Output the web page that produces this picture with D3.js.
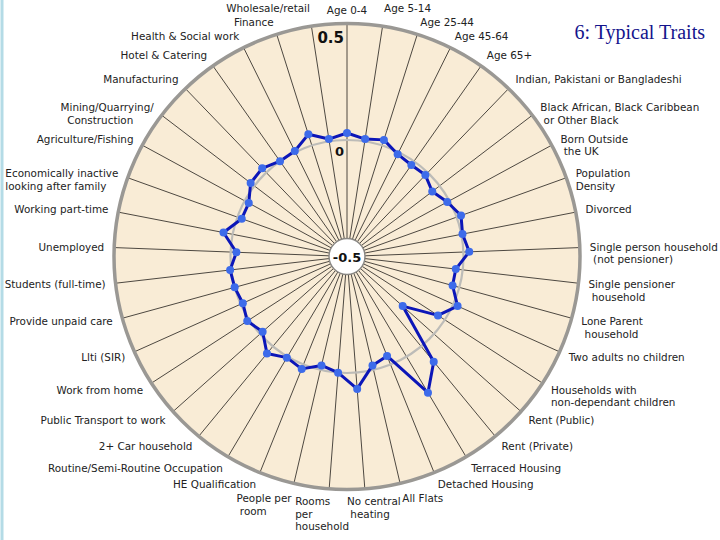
<!DOCTYPE html>
<html lang="en">
<head>
    <meta charset="UTF-8">
    <title>6: Typical Traits</title>
    <style>
        body { margin: 0; background: #fff; }
        svg { display: block; }
        .lbl { font-family: "DejaVu Sans", Verdana, sans-serif; font-size: 10.4px; fill: #222; white-space: pre; }
        .tick { font-family: "DejaVu Sans", Verdana, sans-serif; font-weight: bold; fill: #111; }
    </style>
</head>
<body>
    <svg class="chart-svg" width="720" height="540"></svg>
    <script src="https://d3js.org/d3.v7.min.js"></script>
    <script>
        // Variable names, clockwise from the top ("\n" = line break)
        var categories = [
            "Age 0-4", "Age 5-14", "Age 25-44", "Age 45-64", "Age 65+",
            "Indian, Pakistani or Bangladeshi",
            "Black African, Black Caribbean\n or Other Black",
            "Born Outside\n the UK", "Population\nDensity", "Divorced",
            "Single person household\n (not pensioner)",
            "Single pensioner\n household", "Lone Parent\n household",
            "Two adults no children",
            "Households with\nnon-dependant children",
            "Rent (Public)", "Rent (Private)", "Terraced Housing",
            "Detached Housing", "All Flats", "No central\n heating",
            "Rooms\nper\nhousehold", "People per\n room", "HE Qualification",
            "Routine/Semi-Routine Occupation", "2+ Car household",
            "Public Transport to work", "Work from home", "Llti (SIR)",
            "Provide unpaid care", "Students (full-time)", "Unemployed",
            "Working part-time", "Economically inactive\nlooking after family",
            "Agriculture/Fishing", "Mining/Quarrying/\n  Construction",
            "Manufacturing", "Hotel & Catering", "Health & Social work",
            "Finance", "Wholesale/retail"
        ];

        // Cluster mean for "6: Typical Traits"
        var values = [
            0.03, 0.01, 0.025, -0.01, -0.02,
            -0.015, -0.04, -0.01, 0.02, 0.005,
            0.025, -0.03, -0.03, 0.02, -0.035,
            -0.18, 0.085, 0.18, -0.04, -0.02,
            0.07, 0.0, -0.02, 0.02, 0.005,
            0.04, -0.015, 0.01, -0.01, 0.0,
            0.005, -0.025, 0.04, -0.02, -0.02,
            0.02, 0.025, 0.0, 0.005, 0.05,
            0.01
        ];

        var tickValues = [-0.5, 0, 0.5];
        var title = "6: Typical Traits";

        var svg = d3.select(".chart-svg");
        var cx = 347, cy = 256.5, R = 233;

        var rScale = d3.scaleLinear().domain([-0.5, 0.5]).range([0, R]);
        var aScale = d3.scaleLinear().domain([0, categories.length]).range([0, 2 * Math.PI]);

        // thin light-blue edge on the left of the slide
        svg.append("line")
            .attr("x1", 2).attr("x2", 2).attr("y1", 0).attr("y2", 540)
            .attr("stroke", "#b4dbe6").attr("stroke-width", 3);

        var g = svg.append("g").attr("transform", "translate(" + cx + "," + cy + ")");

        // paper background
        g.append("circle")
            .attr("r", R)
            .attr("fill", "#f9ecd6");

        // spokes
        g.selectAll("line.spoke")
            .data(categories)
            .enter()
            .append("line")
            .attr("class", "spoke")
            .attr("x1", (d, i) => 18 * Math.sin(aScale(i)))
            .attr("y1", (d, i) => -18 * Math.cos(aScale(i)))
            .attr("x2", (d, i) => R * Math.sin(aScale(i)))
            .attr("y2", (d, i) => -R * Math.cos(aScale(i)))
            .attr("stroke", "#3a3530")
            .attr("stroke-width", 0.9);

        // outer ring
        g.append("circle")
            .attr("r", rScale(0.5))
            .attr("fill", "none")
            .attr("stroke", "#9a9894")
            .attr("stroke-width", 3.5);

        // zero ring
        g.append("circle")
            .attr("r", rScale(0))
            .attr("fill", "none")
            .attr("stroke", "#bdbcb8")
            .attr("stroke-width", 2.2);

        // data line
        var line = d3.lineRadial()
            .angle((d, i) => aScale(i))
            .radius(d => rScale(d))
            .curve(d3.curveLinearClosed);

        g.append("path")
            .datum(values)
            .attr("d", line)
            .attr("fill", "none")
            .attr("stroke", "#0c16b8")
            .attr("stroke-width", 3)
            .attr("stroke-linejoin", "round");

        g.selectAll("circle.pt")
            .data(values)
            .enter()
            .append("circle")
            .attr("class", "pt")
            .attr("cx", (d, i) => rScale(d) * Math.sin(aScale(i)))
            .attr("cy", (d, i) => -rScale(d) * Math.cos(aScale(i)))
            .attr("r", 4)
            .attr("fill", "#3d6bea");

        // centre disc for -0.5
        g.append("circle")
            .attr("r", 18)
            .attr("fill", "#fff")
            .attr("stroke", "#8a8884")
            .attr("stroke-width", 1.5);

        g.append("text")
            .attr("class", "tick")
            .attr("text-anchor", "middle")
            .attr("y", 5)
            .style("font-size", "13px")
            .text(tickValues[0]);

        g.append("text")
            .attr("class", "tick")
            .attr("text-anchor", "end")
            .attr("x", -3)
            .attr("y", -rScale(tickValues[1]) + 16)
            .style("font-size", "13px")
            .text(tickValues[1]);

        g.append("text")
            .attr("class", "tick")
            .attr("text-anchor", "end")
            .attr("x", -3)
            .attr("y", -rScale(tickValues[2]) + 19)
            .style("font-size", "15px")
            .text(tickValues[2]);

        // category labels: left-aligned blocks, first line at the spoke end
        var lh = 12.5, labR = R + 10;
        var boxes = [];
        g.selectAll("text.lbl")
            .data(categories)
            .enter()
            .append("text")
            .attr("class", "lbl")
            .each(function (d, i) {
                var a = aScale(i), s = Math.sin(a), c = Math.cos(a);
                var lines = d.split("\n");
                var x = labR * s, y = -labR * c;
                var y0 = y - c * 3 + 3.7;
                var t = d3.select(this);
                var spans = lines.map(function (ln, k) {
                    return t.append("tspan")
                        .attr("y", y0 + k * lh)
                        .text(ln);
                });
                var W = d3.max(spans, sp => sp.node().getComputedTextLength());
                var x0;
                if (Math.abs(s) < 0.02) x0 = x - W / 2;
                else if (Math.abs(s) < 0.1 && c < 0) x0 = s > 0 ? 0 : 2 - W;
                else x0 = s > 0 ? x : x - W;
                spans.forEach(sp => sp.attr("x", x0));
                boxes.push({ el: t, top: y0 - 10, bottom: y0 + (lines.length - 1) * lh + 3, left: x0, right: x0 + W, dy: 0 });
            });

        // push apart labels that collide near the top / bottom
        for (var it = 0; it < 5; it++) {
            for (var i = 0; i < boxes.length; i++) {
                for (var j = i + 1; j < boxes.length; j++) {
                    var A = boxes[i], B = boxes[j];
                    if (Math.min(A.right, B.right) - Math.max(A.left, B.left) < 4) continue;
                    var up = A.top + A.dy < B.top + B.dy ? A : B;
                    var lo = up === A ? B : A;
                    var ov = (up.bottom + up.dy) - (lo.top + lo.dy) + 1;
                    if (ov <= 0) continue;
                    if (up.top + up.dy < 0) up.dy -= ov; else lo.dy += ov;
                }
            }
        }
        boxes.forEach(b => b.el.attr("transform", "translate(0," + b.dy + ")"));

        // title
        svg.append("text")
            .attr("x", 705)
            .attr("y", 39)
            .attr("text-anchor", "end")
            .style("font-family", "'Liberation Serif', 'Times New Roman', serif")
            .style("font-size", "20px")
            .style("fill", "#14148c")
            .text(title);
    </script>
</body>
</html>
